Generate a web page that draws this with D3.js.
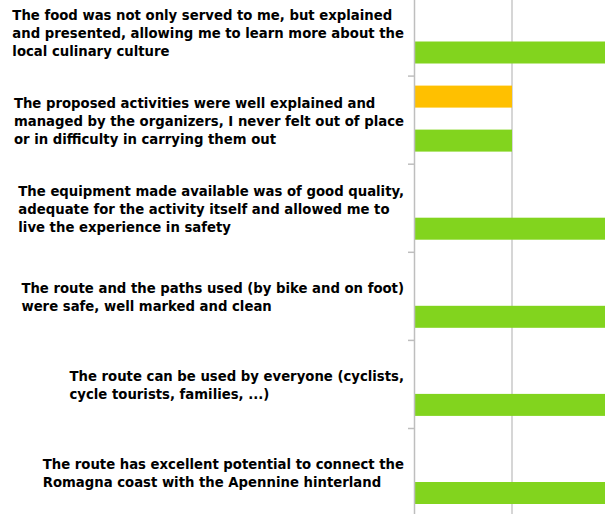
<!DOCTYPE html>
<html>
<head>
<meta charset="utf-8">
<script src="https://cdn.jsdelivr.net/npm/d3@7"></script>
<style>
  html, body { margin: 0; padding: 0; background: #fff; }
  svg { display: block; }
</style>
</head>
<body>
<script>
// ---- data ----
const categories = [
  ["The food was not only served to me, but explained",
   "and presented, allowing me to learn more about the",
   "local culinary culture"],
  ["The proposed activities were well explained and",
   "managed by the organizers, I never felt out of place",
   "or in difficulty in carrying them out"],
  ["The equipment made available was of good quality,",
   "adequate for the activity itself and allowed me to",
   "live the experience in safety"],
  ["The route and the paths used (by bike and on foot)",
   "were safe, well marked and clean"],
  ["The route can be used by everyone (cyclists,",
   "cycle tourists, families, ...)"],
  ["The route has excellent potential to connect the",
   "Romagna coast with the Apennine hinterland"]
];
const seriesNames = ["Partially agree", "Agree", "Totally agree"];
const seriesColors = ["#FFC000", "#A5A5A5", "#82D41E"];
const partiallyAgree = [0, 1, 0, 0, 0, 0];
const agree = [0, 0, 0, 0, 0, 0];
const totallyAgree = [3, 1, 3, 3, 3, 3];
const xTicks = [0, 1, 2, 3];

// ---- layout ----
const W = 605, H = 514;
const axisX = 414;
const unit = 98;
const bandTop = -12.5, bandStep = 88.1;
const labelRight = 404;
const lineH = 18;

const seriesValues = [partiallyAgree, agree, totallyAgree];
const rows = categories.map((c, i) => ({
  idx: i, lines: c,
  values: seriesNames.map((s, j) => ({ series: s, j, value: seriesValues[j][i] }))
}));

const svg = d3.select("body").append("svg").attr("width", W).attr("height", H);

const y = d3.scaleBand()
  .domain(d3.range(categories.length))
  .range([bandTop, bandTop + bandStep * categories.length]);
const ySeries = d3.scaleBand().domain(seriesNames).range([10, 76]);
const x = d3.scaleLinear().domain([0, 3]).range([axisX, axisX + unit * 3]);

// gridlines
svg.append("g")
  .selectAll("line.grid")
  .data(xTicks.filter(t => t > 0))
  .join("line")
  .attr("x1", d => x(d)).attr("x2", d => x(d))
  .attr("y1", 0).attr("y2", H)
  .attr("stroke", "#C8C8C8").attr("stroke-width", 1.5);

// bars
const g = svg.append("g")
  .selectAll("g.cat")
  .data(rows)
  .join("g")
  .attr("transform", d => `translate(0,${y(d.idx)})`);

g.selectAll("rect")
  .data(d => d.values.filter(v => v.value > 0))
  .join("rect")
  .attr("x", x(0) + 0.5)
  .attr("y", d => ySeries(d.series))
  .attr("width", d => x(d.value) - x(0) - 0.5)
  .attr("height", ySeries.bandwidth())
  .attr("fill", d => seriesColors[d.j]);

// category axis
const yb = d3.scaleLinear().domain([0, categories.length]).range([bandTop, bandTop + bandStep * categories.length]);
const yAxis = svg.append("g")
  .attr("transform", `translate(${axisX},0)`)
  .call(d3.axisLeft(yb).tickValues(d3.range(1, categories.length + 1)).tickSize(6).tickFormat("").tickSizeOuter(0));
yAxis.select(".domain").attr("stroke", "#BEBEBE").attr("stroke-width", 1.5);
yAxis.selectAll(".tick line").attr("stroke", "#BEBEBE").attr("stroke-width", 1.5);

// labels
const fontFamily = "'DejaVu Sans Condensed', 'DejaVu Sans', sans-serif";
const probe = svg.append("text")
  .attr("font-family", fontFamily).attr("font-weight", "bold").attr("font-size", 14)
  .text(categories[0][0]);
const pw = probe.node().getComputedTextLength();
probe.remove();
const fs = 14 * 380 / pw;

const labels = svg.append("g").selectAll("g.lab").data(rows).join("g");
labels.each(function(d) {
  const grp = d3.select(this);
  const n = d.lines.length;
  const cy = y(d.idx) + y.bandwidth() / 2;
  const texts = grp.selectAll("text").data(d.lines).join("text")
    .attr("font-family", fontFamily)
    .attr("font-weight", "bold")
    .attr("font-size", fs)
    .attr("fill", "#000")
    .attr("y", (l, i) => cy + (i - (n - 1) / 2) * lineH + 6)
    .text(l => l);
  let maxW = 0;
  texts.each(function() { maxW = Math.max(maxW, this.getComputedTextLength()); });
  texts.attr("x", labelRight - maxW);
});
</script>
</body>
</html>
